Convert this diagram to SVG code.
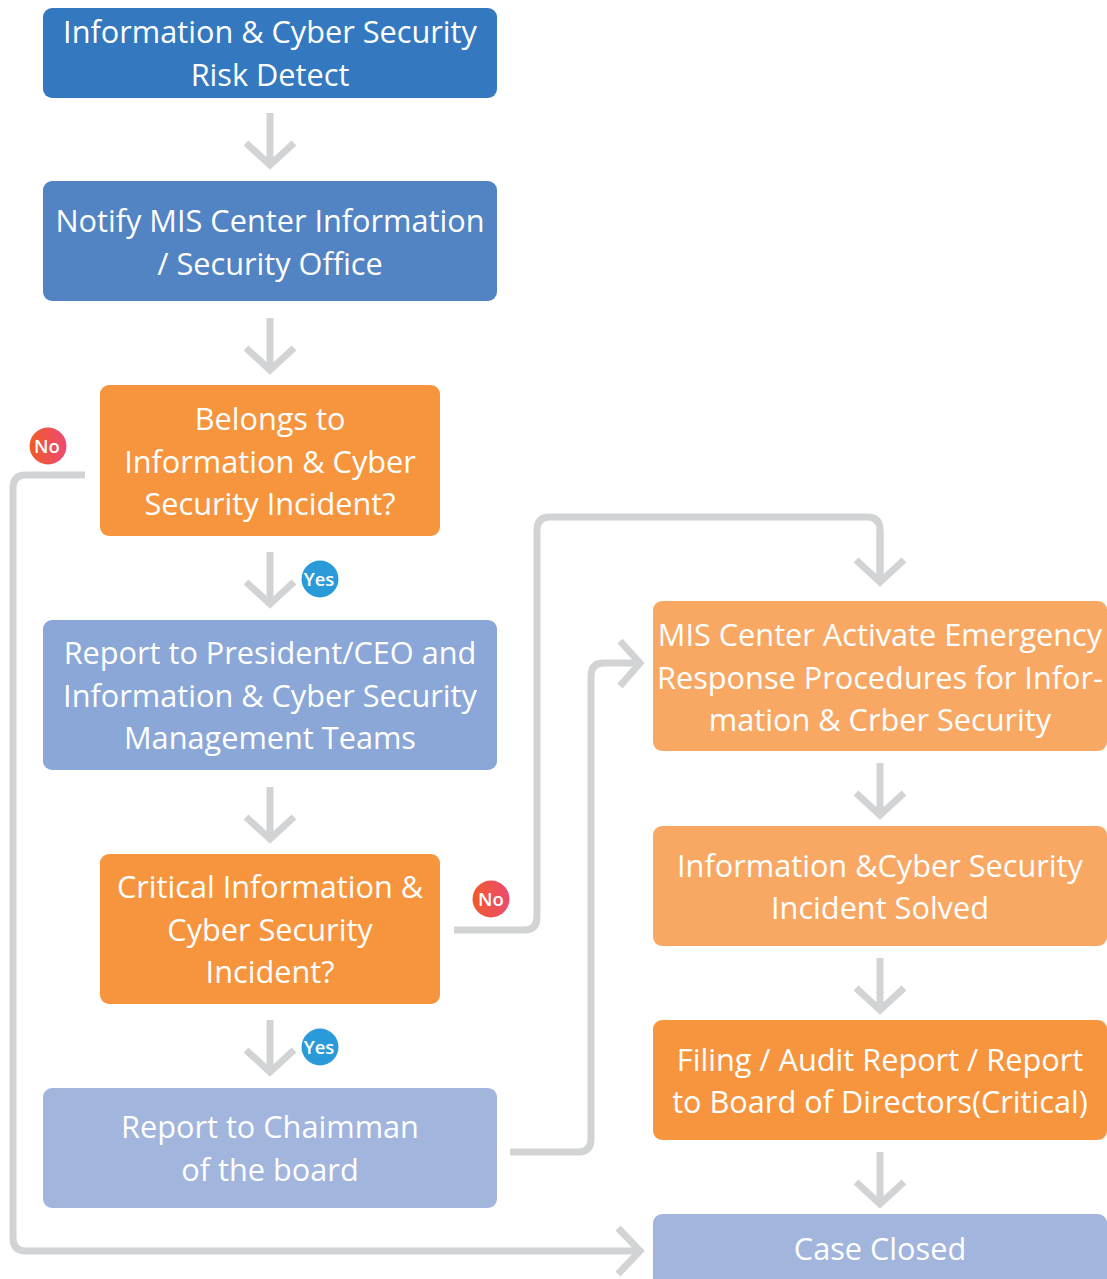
<svg xmlns="http://www.w3.org/2000/svg" xmlns:xlink="http://www.w3.org/1999/xlink" width="1107" height="1279" viewBox="0 0 1107 1279">
  <defs>
    <style>
      .lbl { font-family: "Open Sans", "Noto Sans", "Liberation Sans", sans-serif; font-size: 30.7px; fill: #ffffff; text-anchor: middle; }
      .badge { font-family: "Open Sans", "Noto Sans", "Liberation Sans", sans-serif; font-size: 18.5px; font-weight: 600; fill: #ffffff; text-anchor: middle; }
      .wire { fill: none; stroke: #D1D3D4; stroke-width: 7; stroke-linejoin: miter; }
    </style>
    <linearGradient id="noFill" x1="0" y1="0" x2="1" y2="0">
      <stop offset="0" stop-color="#EF5B2B"/>
      <stop offset="1" stop-color="#EC4A72"/>
    </linearGradient>
    <!-- downward arrow, tip at origin -->
    <path id="down" class="wire" d="M0,-52 V-2 M-24,-22 L0,0 L24,-22"/>
  </defs>

  <!-- left column -->
  <g id="risk-detect">
    <rect x="43" y="8" width="454" height="90" rx="9" fill="#3479BF"/>
    <text class="lbl" x="270" y="43">Information &amp; Cyber Security</text>
    <text class="lbl" x="270" y="86">Risk Detect</text>
  </g>
  <g id="notify-mis">
    <rect x="43" y="181" width="454" height="120" rx="9" fill="#5284C4"/>
    <text class="lbl" x="270" y="232">Notify MIS Center Information</text>
    <text class="lbl" x="270" y="275">/ Security Office</text>
  </g>
  <g id="is-incident">
    <rect x="100" y="385" width="340" height="151" rx="9" fill="#F7953E"/>
    <text class="lbl" x="270" y="430">Belongs to</text>
    <text class="lbl" x="270" y="473">Information &amp; Cyber</text>
    <text class="lbl" x="270" y="515">Security Incident?</text>
  </g>
  <g id="report-ceo">
    <rect x="43" y="620" width="454" height="150" rx="9" fill="#8BA7D7"/>
    <text class="lbl" x="270" y="664">Report to President/CEO and</text>
    <text class="lbl" x="270" y="707">Information &amp; Cyber Security</text>
    <text class="lbl" x="270" y="749">Management Teams</text>
  </g>
  <g id="is-critical">
    <rect x="100" y="854" width="340" height="150" rx="9" fill="#F7953E"/>
    <text class="lbl" x="270" y="898">Critical Information &amp;</text>
    <text class="lbl" x="270" y="941">Cyber Security</text>
    <text class="lbl" x="270" y="983">Incident?</text>
  </g>
  <g id="report-chairman">
    <rect x="43" y="1088" width="454" height="120" rx="9" fill="#A1B5DD"/>
    <text class="lbl" x="270" y="1138">Report to Chaimman</text>
    <text class="lbl" x="270" y="1181">of the board</text>
  </g>

  <!-- right column -->
  <g id="emergency-response">
    <rect x="653" y="601" width="454" height="150" rx="9" fill="#F9A864"/>
    <text class="lbl" x="880" y="646">MIS Center Activate Emergency</text>
    <text class="lbl" x="880" y="689">Response Procedures for Infor-</text>
    <text class="lbl" x="880" y="731">mation &amp; Crber Security</text>
  </g>
  <g id="incident-solved">
    <rect x="653" y="826" width="454" height="120" rx="9" fill="#F9A864"/>
    <text class="lbl" x="880" y="877">Information &amp;Cyber Security</text>
    <text class="lbl" x="880" y="919">Incident Solved</text>
  </g>
  <g id="filing-report">
    <rect x="653" y="1020" width="454" height="120" rx="9" fill="#F7953E"/>
    <text class="lbl" x="880" y="1071">Filing / Audit Report / Report</text>
    <text class="lbl" x="880" y="1113">to Board of Directors(Critical)</text>
  </g>
  <g id="case-closed">
    <rect x="653" y="1214" width="454" height="90" rx="9" fill="#A1B5DD"/>
    <text class="lbl" x="880" y="1260">Case Closed</text>
  </g>

  <!-- connectors -->
  <g id="connectors">
    <use xlink:href="#down" x="270" y="165"/>
    <use xlink:href="#down" x="270" y="370"/>
    <use xlink:href="#down" x="270" y="604"/>
    <use xlink:href="#down" x="270" y="839"/>
    <use xlink:href="#down" x="270" y="1072"/>
    <use xlink:href="#down" x="880" y="582"/>
    <use xlink:href="#down" x="880" y="815"/>
    <use xlink:href="#down" x="880" y="1010"/>
    <use xlink:href="#down" x="880" y="1204"/>

    <!-- not an incident: loop down to case closed -->
    <path class="wire" d="M85,475 H26 Q13,475 13,488 V1238 Q13,1251 26,1251 H638"/>
    <path class="wire" d="M618,1228 L640,1251 L618,1274"/>

    <!-- not critical: up and over to emergency response -->
    <path class="wire" d="M454,930 H524 Q537,930 537,917 V530 Q537,517 550,517 H867 Q880,517 880,530 V578"/>

    <!-- chairman report feeds emergency response -->
    <path class="wire" d="M510,1152 H578 Q591,1152 591,1139 V676 Q591,663 604,663 H638"/>
    <path class="wire" d="M620,641 L640,663 L620,686"/>

    <!-- decision badges -->
    <circle cx="48" cy="446" r="18.5" fill="url(#noFill)"/>
    <text class="badge" x="47" y="452.5">No</text>
    <circle cx="491" cy="899" r="18.5" fill="url(#noFill)"/>
    <text class="badge" x="491" y="905.5">No</text>
    <circle cx="320" cy="579" r="18.5" fill="#2A9BD8"/>
    <text class="badge" x="319" y="585.5">Yes</text>
    <circle cx="320" cy="1047" r="18.5" fill="#2A9BD8"/>
    <text class="badge" x="319" y="1053.5">Yes</text>
  </g>
</svg>
